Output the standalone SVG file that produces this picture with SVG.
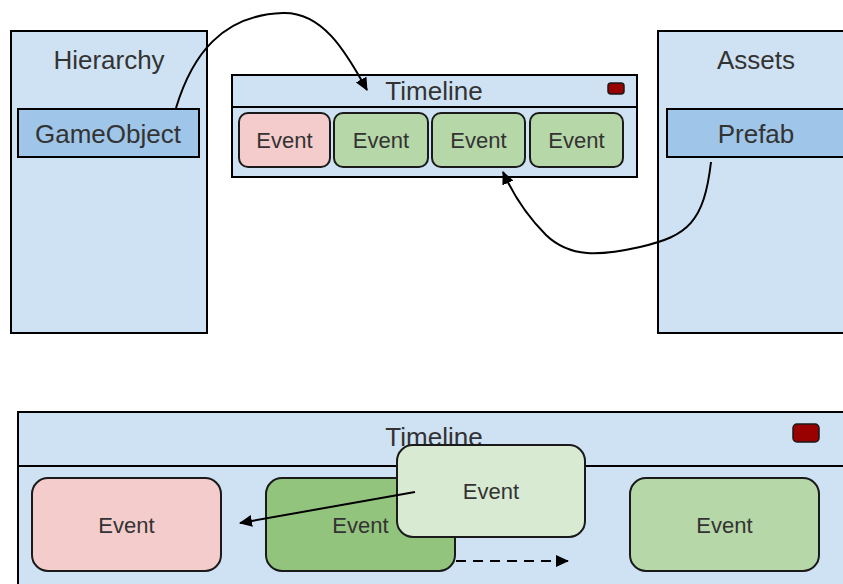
<svg xmlns="http://www.w3.org/2000/svg" width="843" height="584" viewBox="0 0 843 584">
  <style>
    .panel { fill: #cfe2f3; stroke: #000; stroke-width: 2; }
    .item { fill: #9fc5e8; stroke: #000; stroke-width: 2; }
    .ev { stroke: #1a1a1a; stroke-width: 2; }
    .red { fill: #990000; stroke: #1a1a1a; stroke-width: 1.5; }
    .sep { stroke: #000; stroke-width: 2; }
    .title { font-family: "Liberation Sans", Arial, sans-serif; font-size: 26px; fill: #333; text-anchor: middle; }
    .lbl { font-family: "Liberation Sans", Arial, sans-serif; font-size: 22px; fill: #333; text-anchor: middle; }
    .conn { fill: none; stroke: #000; stroke-width: 2; }
  </style>
  <defs>
    <marker id="arrow" markerWidth="14" markerHeight="12" refX="12" refY="6" orient="auto" markerUnits="userSpaceOnUse">
      <path d="M0,0 L13,6 L0,12 Z" fill="#000"/>
    </marker>
  </defs>

  <rect width="843" height="584" fill="#fff"/>

  <!-- Hierarchy window -->
  <g id="hierarchy">
    <rect class="panel" x="11" y="31" width="196" height="302"/>
    <text class="title" x="109" y="69">Hierarchy</text>
  </g>
  <g id="gameobject">
    <rect class="item" x="18" y="109" width="181" height="48"/>
    <text class="title" x="108" y="143">GameObject</text>
  </g>

  <!-- Assets window -->
  <g id="assets">
    <rect class="panel" x="658" y="31" width="200" height="302"/>
    <text class="title" x="756" y="69">Assets</text>
  </g>
  <g id="prefab">
    <rect class="item" x="667" y="109" width="190" height="48"/>
    <text class="title" x="756" y="143">Prefab</text>
  </g>

  <!-- Small timeline -->
  <g id="timeline-small">
    <rect class="panel" x="232" y="75" width="405" height="102"/>
    <line class="sep" x1="232" y1="107" x2="637" y2="107"/>
    <text class="title" x="434" y="100">Timeline</text>
    <rect class="red" x="608" y="83" width="16" height="11" rx="3"/>
  </g>
  <g id="event-s1">
    <rect class="ev" x="239" y="113" width="91" height="54" rx="9" fill="#f4cccc"/>
    <text class="lbl" x="284.5" y="148">Event</text>
  </g>
  <g id="event-s2">
    <rect class="ev" x="334" y="113" width="94" height="54" rx="9" fill="#b6d7a8"/>
    <text class="lbl" x="381" y="148">Event</text>
  </g>
  <g id="event-s3">
    <rect class="ev" x="432" y="113" width="93" height="54" rx="9" fill="#b6d7a8"/>
    <text class="lbl" x="478.5" y="148">Event</text>
  </g>
  <g id="event-s4">
    <rect class="ev" x="530" y="113" width="93" height="54" rx="9" fill="#b6d7a8"/>
    <text class="lbl" x="576.5" y="148">Event</text>
  </g>

  <!-- Large timeline -->
  <g id="timeline-large">
    <rect class="panel" x="18" y="412" width="840" height="190"/>
    <line class="sep" x1="18" y1="466" x2="858" y2="466"/>
    <text class="title" x="434" y="446">Timeline</text>
    <rect class="red" x="793" y="424" width="26" height="18" rx="4"/>
  </g>
  <g id="event-l1">
    <rect class="ev" x="32" y="478" width="189" height="93" rx="16" fill="#f4cccc"/>
    <text class="lbl" x="126.5" y="533">Event</text>
  </g>
  <g id="event-l2">
    <rect class="ev" x="266" y="478" width="189" height="93" rx="16" fill="#93c47d"/>
    <text class="lbl" x="360.5" y="533">Event</text>
  </g>
  <g id="event-l3">
    <rect class="ev" x="630" y="478" width="189" height="93" rx="16" fill="#b6d7a8"/>
    <text class="lbl" x="724.5" y="533">Event</text>
  </g>
  <g id="event-drag">
    <rect class="ev" x="397" y="445" width="188" height="92" rx="16" fill="#d9ead3"/>
    <text class="lbl" x="491" y="499">Event</text>
  </g>

  <!-- Connectors -->
  <g id="connectors">
    <path class="conn" d="M176,108 C192,55 222,15 283,13 C322,12 345,50 367,90" marker-end="url(#arrow)"/>
    <path class="conn" d="M711,162 C704,222 688,236 640,247 C600,256 570,258 546,235 C526,215 512,192 503,172" marker-end="url(#arrow)"/>
    <line class="conn" x1="415" y1="492" x2="240" y2="523" marker-end="url(#arrow)"/>
    <line class="conn" x1="456" y1="561" x2="568" y2="561" stroke-dasharray="10,7" marker-end="url(#arrow)"/>
  </g>
</svg>
